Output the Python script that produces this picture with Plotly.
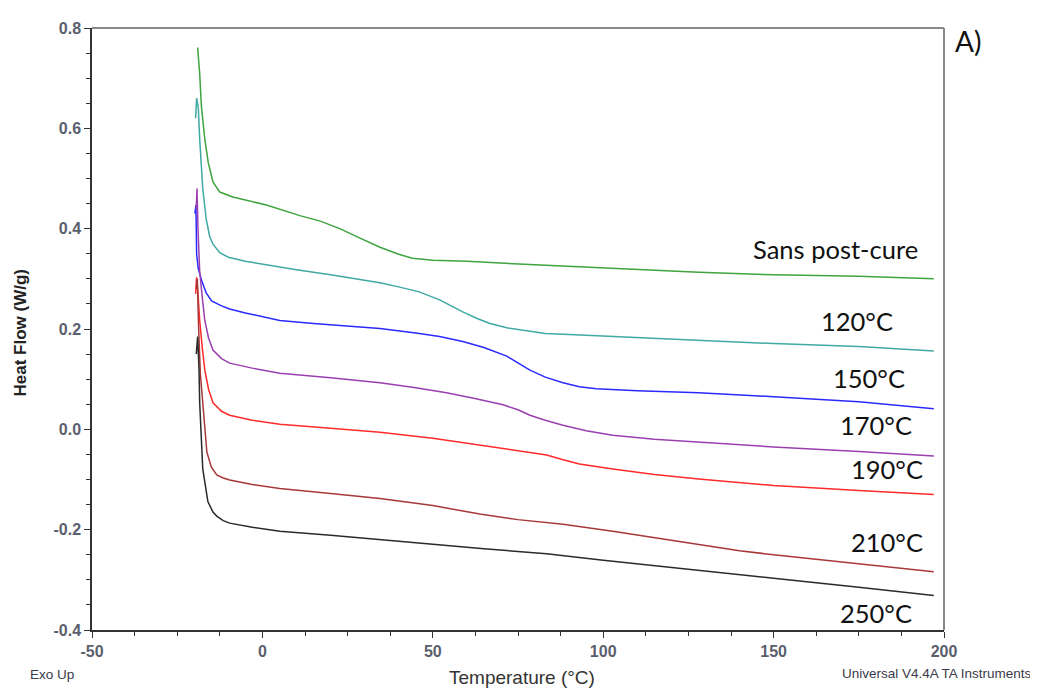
import plotly.graph_objects as go

# ---------------- data ----------------
green_x = [-19.0, -18.4, -17.9, -16.9, -15.9, -14.5, -12.5, -8.7, 1.2, 11, 17, 22.7, 28, 34.5, 40, 44, 50, 60, 80, 100, 128, 150, 175, 197]
green_y = [0.761, 0.709, 0.644, 0.579, 0.532, 0.493, 0.473, 0.463, 0.447, 0.426, 0.415, 0.400, 0.383, 0.363, 0.349, 0.341, 0.337, 0.335, 0.328, 0.322, 0.313, 0.308, 0.305, 0.300]

teal_x = [-19.6, -19.3, -18.8, -18.4, -17.5, -16.5, -15.5, -14.5, -12.5, -10, -5, 0, 10, 20, 30, 34.5, 40, 46, 52, 58.8, 63, 66.8, 72, 78.5, 83, 90, 102.8, 128, 150, 175, 197]
teal_y = [0.620, 0.660, 0.640, 0.579, 0.480, 0.420, 0.385, 0.369, 0.352, 0.343, 0.335, 0.329, 0.318, 0.308, 0.298, 0.292, 0.284, 0.274, 0.258, 0.234, 0.221, 0.211, 0.202, 0.195, 0.191, 0.189, 0.185, 0.177, 0.171, 0.165, 0.156]

blue_x = [-19.8, -19.5, -19.4, -19.3, -18.8, -17.8, -16.5, -14.9, -12, -9.6, -5, 5.1, 15, 25, 34.5, 45, 52, 58.8, 65, 71.7, 75, 78.5, 83, 88.2, 93, 98, 110, 128, 150, 175, 197]
blue_y = [0.430, 0.447, 0.400, 0.349, 0.320, 0.296, 0.272, 0.256, 0.246, 0.240, 0.232, 0.217, 0.211, 0.206, 0.201, 0.192, 0.185, 0.175, 0.163, 0.146, 0.133, 0.118, 0.104, 0.093, 0.085, 0.081, 0.077, 0.073, 0.065, 0.055, 0.041]

purple_x = [-19.4, -19.2, -18.9, -18.4, -17.6, -16.9, -15.8, -14.5, -12, -9.6, -3, 5.1, 20, 34.5, 45, 54, 62, 70.6, 75, 78.5, 83, 88.2, 95, 102.8, 115, 128, 150, 175, 197]
purple_y = [0.440, 0.480, 0.400, 0.315, 0.260, 0.217, 0.182, 0.158, 0.141, 0.132, 0.122, 0.112, 0.103, 0.093, 0.083, 0.073, 0.062, 0.049, 0.039, 0.028, 0.018, 0.008, -0.003, -0.012, -0.020, -0.026, -0.035, -0.044, -0.053]

red_x = [-19.6, -19.3, -19.0, -18.4, -17.6, -16.9, -15.8, -14.5, -12, -9.6, -3, 5.1, 20, 34.5, 50, 63.8, 75, 83.4, 88, 93, 102.8, 115, 128, 150, 175, 197]
red_y = [0.270, 0.303, 0.280, 0.217, 0.160, 0.118, 0.080, 0.053, 0.036, 0.028, 0.018, 0.010, 0.002, -0.006, -0.018, -0.032, -0.042, -0.051, -0.060, -0.069, -0.079, -0.090, -0.099, -0.112, -0.122, -0.130]

brown_x = [-19.4, -19.1, -18.7, -18.2, -17.5, -16.9, -16.3, -15.0, -13.4, -11.5, -9.6, -3, 5.1, 20, 34.5, 50, 63.8, 75, 88.2, 102.8, 117.5, 128, 140, 150, 175, 197]
brown_y = [0.280, 0.300, 0.200, 0.110, 0.053, 0.000, -0.045, -0.075, -0.091, -0.097, -0.101, -0.110, -0.118, -0.128, -0.138, -0.152, -0.169, -0.180, -0.189, -0.203, -0.219, -0.229, -0.242, -0.250, -0.268, -0.284]

black_x = [-19.4, -19.0, -18.6, -18.4, -17.5, -16.0, -14.5, -13.4, -11.5, -9.6, -3, 5.1, 20, 34.5, 50, 65, 83.4, 100, 128.3, 150, 175, 197]
black_y = [0.150, 0.185, 0.120, 0.053, -0.079, -0.144, -0.165, -0.173, -0.182, -0.187, -0.195, -0.203, -0.211, -0.219, -0.229, -0.238, -0.248, -0.261, -0.282, -0.297, -0.315, -0.331]

series_names = ["Sans post-cure", "120°C", "150°C", "170°C", "190°C", "210°C", "250°C"]
series_x = [green_x, teal_x, blue_x, purple_x, red_x, brown_x, black_x]
series_y = [green_y, teal_y, blue_y, purple_y, red_y, brown_y, black_y]
series_colors = ["#3ea43e", "#3fa9a3", "#2a2aff", "#9b3fb0", "#ff2a2a", "#a83838", "#2a2a2a"]

label_x = [168.1, 174.5, 178.0, 180.1, 183.2, 183.2, 180.1]
label_y = [0.359, 0.215, 0.103, 0.009, -0.079, -0.224, -0.367]

x_ticks = [-50, 0, 50, 100, 150, 200]
y_ticks = [-0.4, -0.2, 0.0, 0.2, 0.4, 0.6, 0.8]

# ---------------- figure ----------------
fig = go.Figure()
for name, xs, ys, col in zip(series_names, series_x, series_y, series_colors):
    fig.add_trace(go.Scatter(x=xs, y=ys, mode="lines", name=name,
                             line=dict(color=col, width=1.5), showlegend=False))

tickfont = dict(family="Liberation Sans, Arial", size=16, color="#5a5f6e", weight="bold")

fig.update_layout(
    width=1038, height=688,
    margin=dict(l=84, r=102, t=13, b=66),
    paper_bgcolor="white", plot_bgcolor="white",
    xaxis=dict(range=[-50, 200], tickvals=x_ticks, ticktext=[str(v) for v in x_ticks],
               ticks="outside", ticklen=6, tickcolor="#333", tickwidth=1,
               showline=True, linecolor="#333", linewidth=1.5,
               showgrid=False, zeroline=False, tickfont=tickfont,
               minor=dict(dtick=12.5, tick0=-50, ticks="outside", ticklen=4, tickcolor="#333")),
    yaxis=dict(range=[-0.4, 0.8], tickvals=y_ticks, ticktext=["%.1f" % v for v in y_ticks],
               ticks="outside", ticklen=6, tickcolor="#333", tickwidth=1,
               showline=True, linecolor="#333", linewidth=1.5,
               showgrid=False, zeroline=False, tickfont=tickfont,
               minor=dict(dtick=0.05, tick0=-0.4, ticks="outside", ticklen=4, tickcolor="#333")),
)

# top and right frame lines (gray)
fig.add_shape(type="line", xref="paper", yref="paper", x0=0, x1=1, y0=1, y1=1,
              line=dict(color="#888", width=2))
fig.add_shape(type="line", xref="paper", yref="paper", x0=1, x1=1, y0=0, y1=1,
              line=dict(color="#888", width=2))

# series labels
for name, lx, ly in zip(series_names, label_x, label_y):
    fig.add_annotation(x=lx, y=ly, xref="x", yref="y", text=name, showarrow=False,
                       xanchor="center", yanchor="middle",
                       font=dict(family="Lato, Carlito, Calibri", size=25.5, color="#111"))


def note(px, py, text, font, angle=0):
    fig.add_annotation(xref="paper", yref="paper", x=(px - 92) / 852, y=(630 - py) / 609,
                       text=text, showarrow=False, textangle=angle,
                       xanchor="center", yanchor="middle", font=font)


note(522, 678, "Temperature (°C)", dict(family="Liberation Sans, Arial", size=19, color="#333"))
note(20, 330, "<b>Heat Flow (W/g)</b>", dict(family="Liberation Sans, Arial", size=17, color="#222"), angle=-90)
note(52, 675, "Exo Up", dict(family="Liberation Sans, Arial", size=13.5, color="#3a3a4a"))
note(937, 674, "Universal V4.4A TA Instruments", dict(family="Liberation Sans, Arial", size=13.5, color="#3a3a4a"))
note(968, 34, "A)", dict(family="Lato, Carlito, Calibri", size=28, color="#111"))

fig.write_html("out.html")
